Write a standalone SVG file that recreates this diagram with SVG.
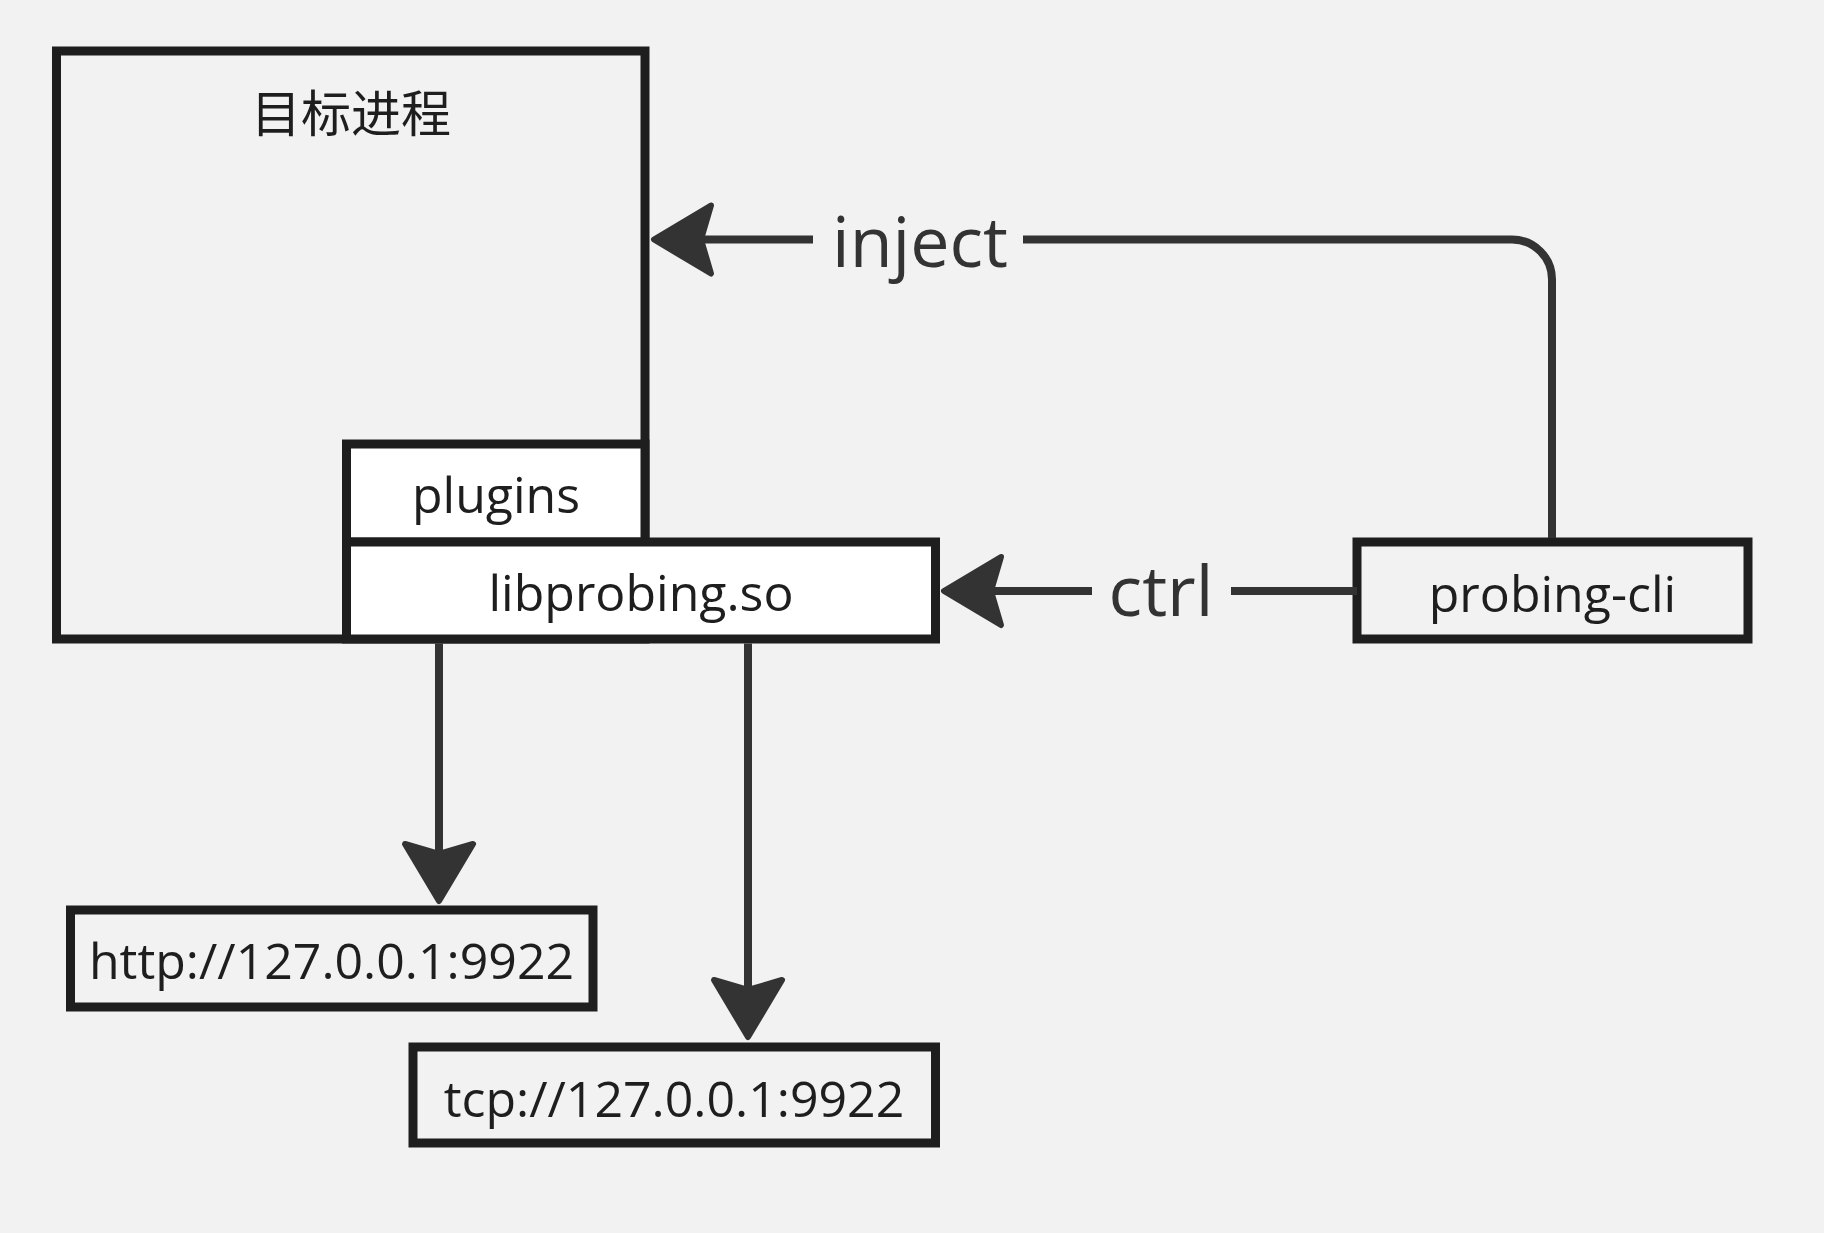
<svg xmlns="http://www.w3.org/2000/svg" xmlns:xlink="http://www.w3.org/1999/xlink" width="1824" height="1233" viewBox="0 0 1824 1233">
<style>
.box{stroke:#1e1e1e;stroke-width:9;fill:#f2f2f2}
.white{fill:#ffffff}
.t{font-family:"Open Sans","Noto Sans","Noto Sans CJK SC",sans-serif;font-size:50px;fill:#1e1e1e;text-anchor:middle}
.cjk{font-family:"Noto Sans CJK SC","Noto Sans CJK JP",sans-serif;font-size:50px;fill:#1e1e1e;text-anchor:middle}
.lbl{font-family:"Open Sans","Noto Sans",sans-serif;font-size:70px;fill:#333333;text-anchor:middle}
.line{stroke:#333333;stroke-width:8;fill:none}
.head{fill:#333333;stroke:#333333;stroke-width:6;stroke-linejoin:round}
</style>
<defs>
<path id="ah" d="M0,0 L-57,-34 L-47,0 L-57,34 Z"/>
</defs>
<rect width="1824" height="1233" fill="#f2f2f2"/>
<g id="target-process">
<rect class="box" x="56.5" y="51" width="588.5" height="588"/>
<text class="cjk" x="351" y="132">目标进程</text>
</g>
<g id="plugins">
<rect class="box white" x="346.5" y="444" width="298.5" height="98"/>
<text class="t" x="496" y="513">plugins</text>
</g>
<g id="libprobing">
<rect class="box white" x="346.5" y="542" width="589" height="97"/>
<text class="t" x="641" y="611">libprobing.so</text>
</g>
<g id="probing-cli">
<rect class="box" x="1357" y="542" width="391" height="97"/>
<text class="t" x="1552.5" y="612">probing-cli</text>
</g>
<g id="http">
<rect class="box" x="70.5" y="910" width="522.5" height="97"/>
<text class="t" x="331.5" y="979">http://127.0.0.1:9922</text>
</g>
<g id="tcp">
<rect class="box" x="413" y="1047" width="522.5" height="96"/>
<text class="t" x="674" y="1117">tcp://127.0.0.1:9922</text>
</g>
<g id="connectors">
<path class="line" d="M1552,538 L1552,279.5 A40,40 0 0 0 1512,239.5 L1023,239.5"/>
<path class="line" d="M813,239.5 L700,239.5"/>
<use class="head" xlink:href="#ah" transform="translate(654,239.5) rotate(180)"/>
<text class="lbl" x="920" y="267">inject</text>
<path class="line" d="M1357,591 L1231,591"/>
<path class="line" d="M1092,591 L990,591"/>
<use class="head" xlink:href="#ah" transform="translate(944,591) rotate(180)"/>
<text class="lbl" x="1161" y="616">ctrl</text>
<path class="line" d="M439,643.5 L439,860"/>
<use class="head" xlink:href="#ah" transform="translate(439,901) rotate(90)"/>
<path class="line" d="M748,643.5 L748,995"/>
<use class="head" xlink:href="#ah" transform="translate(748,1037) rotate(90)"/>
</g>
</svg>
